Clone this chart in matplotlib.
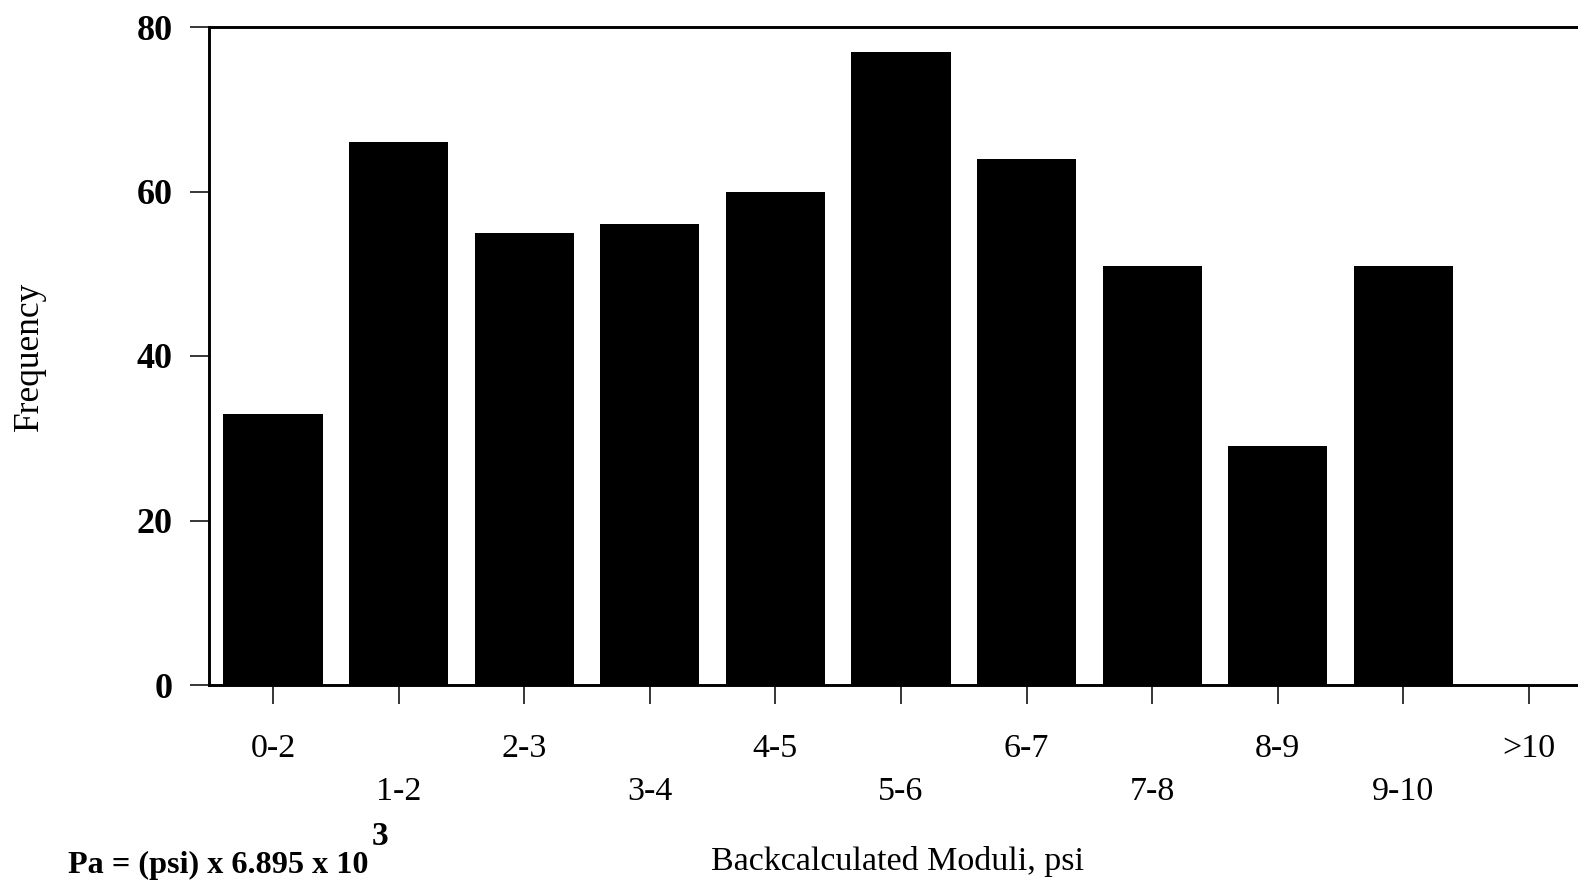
import matplotlib
matplotlib.use('Agg')
import matplotlib.pyplot as plt

# --- Data
categories = ['0-2', '1-2', '2-3', '3-4', '4-5', '5-6', '6-7', '7-8', '8-9', '9-10', '>10']
frequency = [33, 66, 55, 56, 60, 77, 64, 51, 29, 51, 0]
yticks = [0, 20, 40, 60, 80]

plt.rcParams['font.family'] = ['Liberation Serif', 'DejaVu Serif']

fig = plt.figure(figsize=(15.78, 8.84), dpi=100)
ax = fig.add_axes([209/1578, 1 - 685/884, 1 - 209/1578, (685 - 27)/884])

x = list(range(len(categories)))
ax.bar(x, frequency, width=0.79, color='black', zorder=2)

# --- Axes range
ax.set_xlim(-0.51, 10.39)
ax.set_ylim(0, 80)

# --- Spines
ax.spines['right'].set_visible(False)
for s in ['left', 'top', 'bottom']:
  ax.spines[s].set_linewidth(2.1)
  ax.spines[s].set_zorder(3)

# --- Ticks
ax.set_yticks(yticks)
ax.set_yticklabels([str(t) for t in yticks], fontsize=26, fontweight='bold')
ax.tick_params(axis='y', direction='out', length=14, width=1.1, pad=12)

# alternate labels on two rows
xlabels = [c if i % 2 == 0 else '\n' + c for i, c in enumerate(categories)]
ax.set_xticks(x)
ax.set_xticklabels(xlabels, fontsize=24.5, linespacing=1.53)
ax.tick_params(axis='x', direction='out', length=14, width=1.1, pad=21)

# --- Labels
ax.set_ylabel('Frequency', fontsize=25.5)
ax.yaxis.set_label_coords(-0.119, 0.5)
ax.set_xlabel('Backcalculated Moduli, psi', fontsize=24.5)
ax.xaxis.set_label_coords(0.503, -0.244)

# Conversion note - foot note
fig.text(68/1578, 1 - 873/884, 'Pa = (psi) x 6.895 x 10', fontsize=23.2,
         fontweight='bold', ha='left', va='baseline')
fig.text(372/1578, 1 - 845/884, '3', fontsize=24,
         fontweight='bold', ha='left', va='baseline')

plt.savefig('out.png', dpi=100)
